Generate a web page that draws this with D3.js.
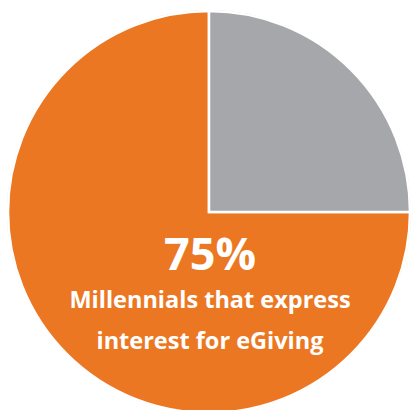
<!DOCTYPE html>
<html>
<head>
<meta charset="utf-8">
<script src="https://cdn.jsdelivr.net/npm/d3@7"></script>
<style>
  html, body { margin: 0; padding: 0; background: #fff; }
  #chart-container { width: 413px; height: 410px; overflow: hidden; }
</style>
</head>
<body>
<div id="chart-container"></div>
<script>
// data
const categories = ["Interested in eGiving", "Not interested"];
const values = [75, 25];
const colors = ["#EC7723", "#A6A7AA"];
const headline = "75%";
const captionLines = ["Millennials that express", "interest for eGiving"];

const width = 413, height = 410;
const cx = 209, cy = 212, radius = 201;

const svg = d3.select("#chart-container").append("svg")
    .attr("width", width)
    .attr("height", height);

const g = svg.append("g")
    .attr("transform", `translate(${cx},${cy})`);

// pie starts at 3 o'clock so the small slice sits in the top-right quarter
const pie = d3.pie()
    .sort(null)
    .startAngle(Math.PI / 2)
    .endAngle(Math.PI / 2 + 2 * Math.PI);

const arc = d3.arc()
    .innerRadius(0)
    .outerRadius(radius);

const slices = pie(values);

// faint outline like the reference's soft edge
g.append("circle")
    .attr("r", radius + 0.5)
    .attr("fill", "none")
    .attr("stroke", "#d0d0d0")
    .attr("stroke-width", 1);

g.selectAll("path.slice")
    .data(slices)
    .enter()
    .append("path")
    .attr("class", "slice")
    .attr("d", arc)
    .attr("fill", (d, i) => colors[i])
    .attr("stroke", "#fff")
    .attr("stroke-width", 2.5)
    .attr("stroke-linejoin", "miter");

// labels
const text = svg.append("g")
    .attr("font-family", "'Open Sans', sans-serif")
    .attr("font-weight", "bold")
    .attr("fill", "#fff")
    .attr("text-anchor", "middle");

text.append("text")
    .attr("x", 210)
    .attr("y", 270)
    .attr("font-size", 45)
    .text(headline);

text.selectAll("text.caption")
    .data(captionLines)
    .enter()
    .append("text")
    .attr("class", "caption")
    .attr("x", 210)
    .attr("y", (d, i) => 308 + i * 41)
    .attr("font-size", 23.5)
    .text(d => d);
</script>
</body>
</html>
